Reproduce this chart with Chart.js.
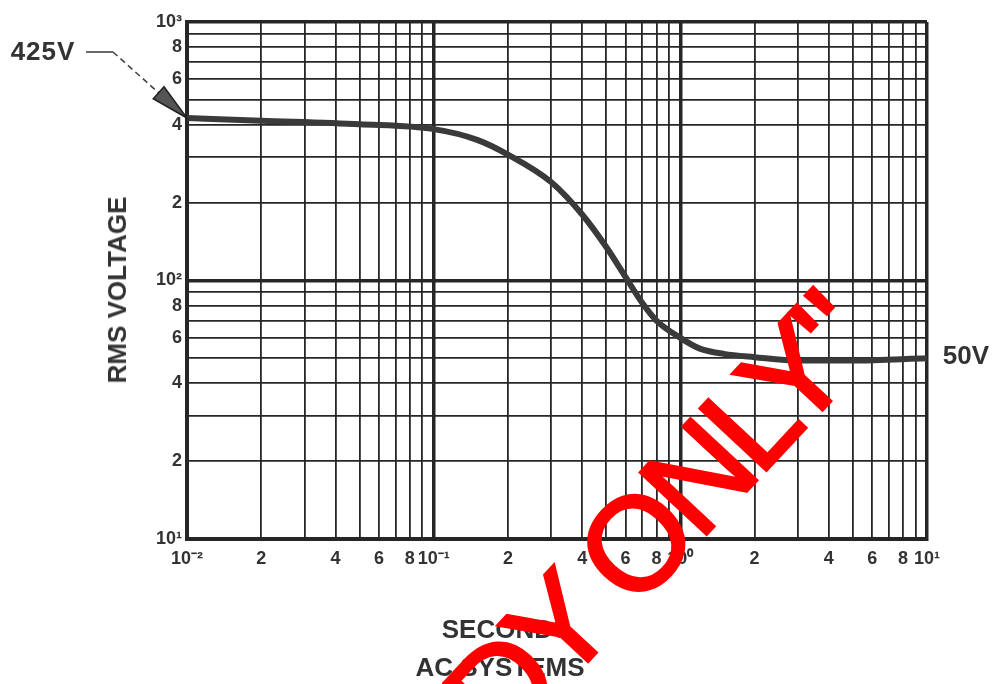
<!DOCTYPE html>
<html>
<head>
<meta charset="utf-8">
<title>RMS Voltage vs Seconds - AC Systems</title>
<script src="https://cdn.jsdelivr.net/npm/chart.js@4.4.1/dist/chart.umd.min.js"></script>
<style>
    html, body { margin: 0; padding: 0; background: #fff; overflow: hidden; }
    #wrap { position: relative; width: 1000px; height: 684px; overflow: hidden; }
    #chart { position: absolute; left: 0; top: 0; }
    .note {
        position: absolute;
        font-family: "Liberation Sans", Arial, sans-serif;
        font-weight: bold;
        font-size: 26px;
        line-height: 1;
        color: #333;
        white-space: nowrap;
        transform: translate(-50%, -50%);
    }
    #yTitle { transform: translate(-50%, -50%) rotate(-90deg); }
    #stamp {
        position: absolute;
        left: 845px;
        top: 320px;
        font-family: "Liberation Sans", Arial, sans-serif;
        font-size: 132px;
        letter-spacing: -8px;
        line-height: 1;
        color: #ff0000;
        -webkit-text-stroke: 3px #ff0000;
        white-space: nowrap;
        transform-origin: 0 0;
        transform: rotate(-47deg) translate(-100%, -50%);
    }
</style>
</head>
<body>
<div id="wrap">
    <canvas id="chart" width="1000" height="684"></canvas>
    <div class="note" id="yTitle" style="left:117px; top:290px;">RMS VOLTAGE</div>
    <div class="note" style="left:506px; top:629px;">SECONDS</div>
    <div class="note" style="left:500px; top:667px;">AC SYSTEMS</div>
    <div class="note" style="left:43px; top:51px; letter-spacing:1px;">425V</div>
    <div class="note" style="left:966px; top:355px;">50V</div>
    <div id="stamp">"FOR STUDY ONLY"</div>
</div>

<script>
// Curve (seconds vs RMS volts)
const seconds = [0.01, 0.02, 0.05, 0.1, 0.15, 0.2, 0.3, 0.4, 0.5, 0.6, 0.7, 0.8, 1.0, 1.2, 1.5, 2, 3, 5, 10];
const rmsVoltage = [425, 415, 402, 385, 350, 307, 240, 180, 135, 103, 82, 70, 60, 54.5, 52, 50.5, 49, 49, 50];

// Log paper grid lines and their labels
const xTickValues = [
    0.01, 0.02, 0.03, 0.04, 0.05, 0.06, 0.07, 0.08, 0.09,
    0.1, 0.2, 0.3, 0.4, 0.5, 0.6, 0.7, 0.8, 0.9,
    1, 2, 3, 4, 5, 6, 7, 8, 9,
    10
];
const xTickLabels = [
    '10⁻²', '2', '', '4', '', '6', '', '8', '',
    '10⁻¹', '2', '', '4', '', '6', '', '8', '',
    '10⁰', '2', '', '4', '', '6', '', '8', '',
    '10¹'
];
const yTickValues = [
    10, 20, 30, 40, 50, 60, 70, 80, 90,
    100, 200, 300, 400, 500, 600, 700, 800, 900,
    1000
];
const yTickLabels = [
    '10¹', '2', '', '4', '', '6', '', '8', '',
    '10²', '2', '', '4', '', '6', '', '8', '',
    '10³'
];

const gridColor = '#262626';
const labelFont = { family: "'Liberation Sans', Arial, sans-serif", size: 18, weight: 'bold' };

function isDecade(v) {
    const l = Math.log10(v);
    return Math.abs(l - Math.round(l)) < 1e-9;
}

// Dashed leader + arrowhead pointing at the first point of the curve
const arrowNote = {
    id: 'arrowNote',
    afterDatasetsDraw(chart) {
        const { ctx, scales: { x, y } } = chart;
        const tipX = x.getPixelForValue(seconds[0]);
        const tipY = y.getPixelForValue(rmsVoltage[0]);
        const sx = 113, sy = 52;
        const len = Math.hypot(tipX - sx, tipY - sy);
        const dx = (tipX - sx) / len, dy = (tipY - sy) / len;
        const bx = tipX - dx * 38, by = tipY - dy * 38;

        ctx.save();
        ctx.strokeStyle = '#444';
        ctx.lineWidth = 1.6;
        ctx.beginPath();
        ctx.moveTo(86, sy);
        ctx.lineTo(sx, sy);
        ctx.stroke();

        ctx.setLineDash([6, 4]);
        ctx.beginPath();
        ctx.moveTo(sx, sy);
        ctx.lineTo(bx, by);
        ctx.stroke();
        ctx.setLineDash([]);

        ctx.fillStyle = '#555';
        ctx.strokeStyle = '#222';
        ctx.beginPath();
        ctx.moveTo(tipX, tipY);
        ctx.lineTo(bx - dy * 8, by + dx * 8);
        ctx.lineTo(bx + dy * 8, by - dx * 8);
        ctx.closePath();
        ctx.fill();
        ctx.stroke();
        ctx.restore();
    }
};

const chart = new Chart(document.getElementById('chart').getContext('2d'), {
    type: 'line',
    data: {
        datasets: [{
            data: seconds.map((s, i) => ({ x: s, y: rmsVoltage[i] })),
            borderColor: '#3a3a3a',
            borderWidth: 6,
            pointRadius: 0,
            fill: false,
            cubicInterpolationMode: 'monotone'
        }]
    },
    options: {
        responsive: false,
        animation: false,
        layout: { padding: { top: 22, right: 73, left: 0, bottom: 0 } },
        plugins: {
            legend: { display: false },
            tooltip: { enabled: false }
        },
        scales: {
            x: {
                type: 'logarithmic',
                min: 0.01,
                max: 10,
                afterBuildTicks: scale => { scale.ticks = xTickValues.map(v => ({ value: v })); },
                afterFit: scale => { scale.height = 145; },
                ticks: {
                    autoSkip: false,
                    maxRotation: 0,
                    padding: 9,
                    color: '#333',
                    font: labelFont,
                    callback: (value, index) => xTickLabels[index]
                },
                grid: {
                    color: gridColor,
                    lineWidth: ctx => (ctx.tick && isDecade(ctx.tick.value)) ? 3.5 : 1.8,
                    drawTicks: false
                },
                border: { color: gridColor, width: 4 }
            },
            y: {
                type: 'logarithmic',
                min: 10,
                max: 1000,
                afterBuildTicks: scale => { scale.ticks = yTickValues.map(v => ({ value: v })); },
                afterFit: scale => { scale.width = 187; },
                ticks: {
                    autoSkip: false,
                    padding: 5,
                    color: '#333',
                    font: labelFont,
                    callback: (value, index) => yTickLabels[index]
                },
                grid: {
                    color: gridColor,
                    lineWidth: ctx => (ctx.tick && isDecade(ctx.tick.value)) ? 3.5 : 1.8,
                    drawTicks: false
                },
                border: { color: gridColor, width: 4 }
            }
        }
    },
    plugins: [arrowNote]
});
</script>
</body>
</html>
